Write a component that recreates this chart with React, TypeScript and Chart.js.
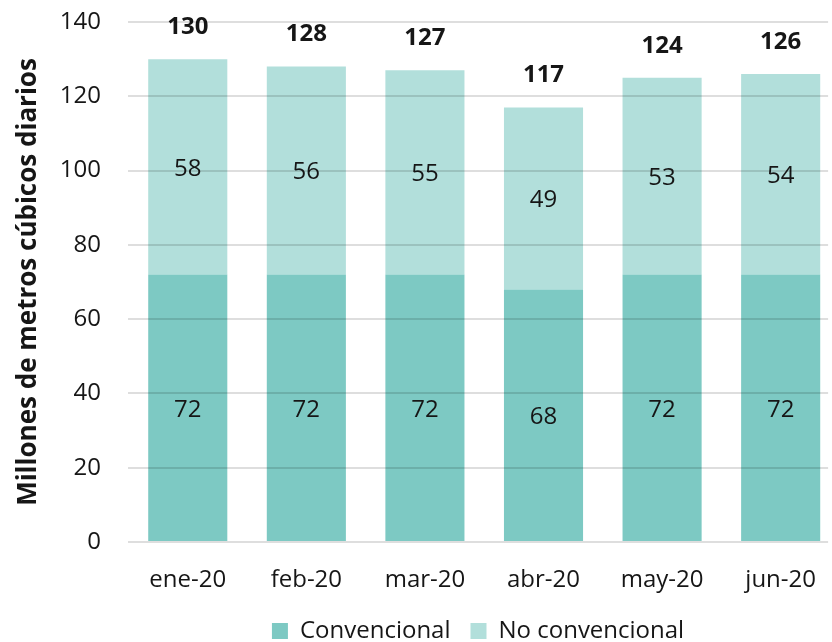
import React, { useEffect, useRef } from "react";
import { Chart, registerables } from "chart.js";

Chart.register(...registerables);

const categories = ["ene-20", "feb-20", "mar-20", "abr-20", "may-20", "jun-20"];
const convencional = [72, 72, 72, 68, 72, 72];
const noConvencional = [58, 56, 55, 49, 53, 54];
const totals = [130, 128, 127, 117, 124, 126];
const yTicks = [0, 20, 40, 60, 80, 100, 120, 140];

const FONT = "'Open Sans', 'Noto Sans', sans-serif";
const TEXT = "#161616";

const labelPlugin = {
  id: "barLabels",
  afterDatasetsDraw(chart: any) {
    const ctx = chart.ctx;
    ctx.save();
    ctx.fillStyle = TEXT;
    ctx.textAlign = "center";
    chart.data.datasets.forEach((ds: any, di: number) => {
      const meta = chart.getDatasetMeta(di);
      meta.data.forEach((bar: any, i: number) => {
        const v = ds.data[i].y;
        ctx.font = `400 24px ${FONT}`;
        ctx.textBaseline = "middle";
        ctx.fillText(String(v), bar.x, (bar.y + bar.base) / 2 + 2);
        if (di === chart.data.datasets.length - 1) {
          ctx.font = `700 24px ${FONT}`;
          ctx.textBaseline = "bottom";
          ctx.fillText(String(totals[i]), bar.x, bar.y - 20);
        }
      });
    });
    ctx.restore();
  },
};

export default function App() {
  const ref = useRef<HTMLCanvasElement | null>(null);
  useEffect(() => {
    document.body.style.margin = "0";
    const chart = new Chart(ref.current!, {
      type: "bar",
      data: {
        datasets: [
          {
            label: "Convencional",
            data: convencional.map((y, i) => ({ x: i, y })),
            backgroundColor: "#7dc9c3",
            categoryPercentage: 0.667,
            barPercentage: 1,
          },
          {
            label: "No convencional",
            data: noConvencional.map((y, i) => ({ x: i, y })),
            backgroundColor: "#b2dfdb",
            categoryPercentage: 0.667,
            barPercentage: 1,
          },
        ],
      },
      options: {
        animation: false,
        responsive: true,
        maintainAspectRatio: false,
        layout: { padding: { top: 22, right: 0, left: 0, bottom: -11 } },
        scales: {
          x: {
            type: "linear",
            stacked: true,
            offset: false,
            min: -0.504,
            max: 5.4,
            grid: { display: false },
            border: { display: false },
            afterBuildTicks: (s: any) => {
              s.ticks = categories.map((_, i) => ({ value: i }));
            },
            afterFit: (s: any) => {
              s.height = 57;
            },
            ticks: {
              autoSkip: false,
              maxRotation: 0,
              padding: 16,
              color: TEXT,
              font: { family: FONT, size: 24 },
              callback: (v: any) => categories[v] ?? "",
            },
          },
          y: {
            stacked: true,
            min: 0,
            max: 140,
            afterBuildTicks: (s: any) => {
              s.ticks = yTicks.map((value) => ({ value }));
            },
            afterFit: (s: any) => {
              s.width = 128;
              s.paddingTop = 0;
              s.paddingBottom = 0;
            },
            grid: { color: "rgba(0,0,0,0.13)", lineWidth: 2, drawTicks: false, z: 1 },
            border: { display: false },
            ticks: {
              padding: 27,
              color: TEXT,
              font: { family: FONT, size: 24 },
            },
            title: {
              display: true,
              text: "Millones de metros cúbicos diarios",
              color: TEXT,
              font: { family: FONT, size: 26, weight: "bold" },
              padding: { top: 13, bottom: 0 },
            },
          },
        },
        plugins: {
          tooltip: { enabled: false },
          legend: {
            position: "bottom",
            fullSize: false,
            labels: {
              boxWidth: 16,
              boxHeight: 16,
              padding: 20,
              color: TEXT,
              font: { family: FONT, size: 24 },
            },
          },
        },
      },
      plugins: [labelPlugin],
    });
    return () => chart.destroy();
  }, []);
  return (
    <div style={{ width: 832, height: 642, position: "relative" }}>
      <canvas ref={ref} />
    </div>
  );
}
